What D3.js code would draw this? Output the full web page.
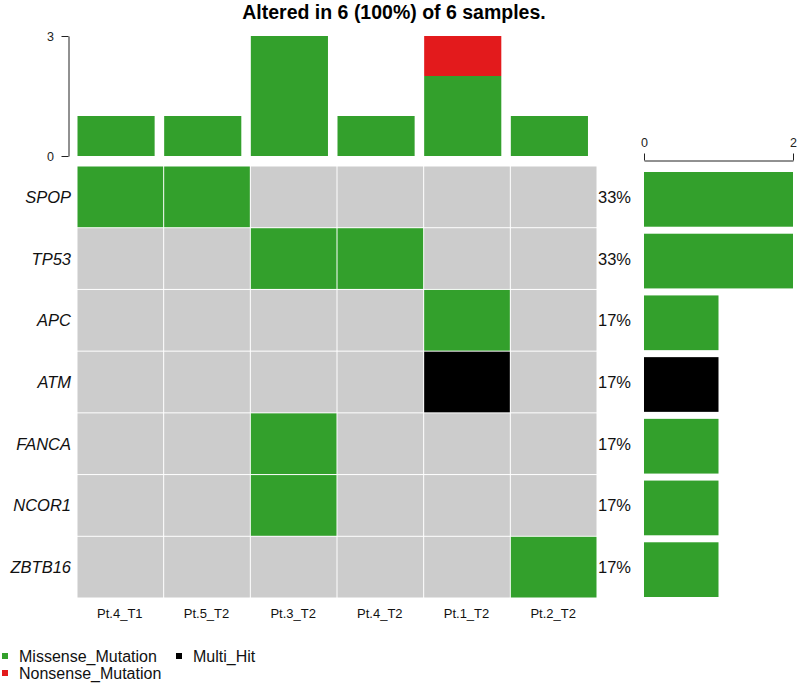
<!DOCTYPE html>
<html><head><meta charset="utf-8">
<script src="https://cdn.jsdelivr.net/npm/d3@7"></script>
<style>body{margin:0;background:#fff}svg{display:block}text{font-family:"Liberation Sans",Arial,sans-serif}</style>
</head><body>
<script>
const samples = ["Pt.4_T1","Pt.5_T2","Pt.3_T2","Pt.4_T2","Pt.1_T2","Pt.2_T2"];
const genes = ["SPOP","TP53","APC","ATM","FANCA","NCOR1","ZBTB16"];
const pct = ["33%","33%","17%","17%","17%","17%","17%"];
// variant class per gene (rows) x sample (cols); "" = none
const cells = [
  ["Missense_Mutation","Missense_Mutation","","","",""],
  ["","","Missense_Mutation","Missense_Mutation","",""],
  ["","","","","Missense_Mutation",""],
  ["","","","","Multi_Hit",""],
  ["","","Missense_Mutation","","",""],
  ["","","Missense_Mutation","","",""],
  ["","","","","","Missense_Mutation"]
];
// top bar: mutations per sample by class
const topMissense  = [1,1,3,1,2,1];
const topNonsense  = [0,0,0,0,1,0];
// right bar: samples per gene with class
const geneCounts = [2,2,1,1,1,1,1];
const geneClass  = ["Missense_Mutation","Missense_Mutation","Missense_Mutation","Multi_Hit","Missense_Mutation","Missense_Mutation","Missense_Mutation"];
const colors = {"Missense_Mutation":"#33A02C","Nonsense_Mutation":"#E31A1C","Multi_Hit":"#000000"};
const bg = "#CCCCCC";

const W=797,H=685;
const svg=d3.select("body").append("svg").attr("width",W).attr("height",H);

const x=d3.scaleBand().domain(samples).range([77,597]);
const y=d3.scaleBand().domain(genes).range([166,598]);

// title
svg.append("text").attr("x",394).attr("y",18.5).attr("text-anchor","middle")
  .attr("font-weight","bold").attr("font-size",19.5).attr("fill","#000").text(`Altered in 6 (100%) of 6 samples.`);

// grid
genes.forEach((g,i)=>{
  samples.forEach((s,j)=>{
    const c=cells[i][j];
    svg.append("rect").attr("x",x(s)+0.5).attr("y",y(g)+0.5)
      .attr("width",x.bandwidth()-1).attr("height",y.bandwidth()-1)
      .attr("fill",c?colors[c]:bg);
  });
});

// gene labels
svg.selectAll(".gl").data(genes).enter().append("text")
  .attr("x",71).attr("y",d=>y(d)+y.bandwidth()/2+6).attr("text-anchor","end")
  .attr("font-style","italic").attr("font-size",16.5).attr("fill","#111").text(d=>d);
// pct labels
svg.selectAll(".pl").data(pct).enter().append("text")
  .attr("x",598).attr("y",(d,i)=>y(genes[i])+y.bandwidth()/2+6)
  .attr("font-size",16.5).attr("fill","#111").text(d=>d);
// sample labels
svg.selectAll(".sl").data(samples).enter().append("text")
  .attr("x",d=>x(d)+x.bandwidth()/2-0.5).attr("y",617.5).attr("text-anchor","middle")
  .attr("font-size",13).attr("fill","#111").text(d=>d);

// top bars
const yt=d3.scaleLinear().domain([0,3]).range([156,36]);
const bw=x.bandwidth()*0.89;
samples.forEach((s,j)=>{
  svg.append("rect").attr("x",x(s)+0.5).attr("width",bw)
    .attr("y",yt(topMissense[j])).attr("height",yt(0)-yt(topMissense[j])).attr("fill",colors.Missense_Mutation);
  if(topNonsense[j]>0){
    svg.append("rect").attr("x",x(s)+0.5).attr("width",bw)
      .attr("y",yt(topMissense[j]+topNonsense[j])).attr("height",yt(0)-yt(topNonsense[j])).attr("fill",colors.Nonsense_Mutation);
  }
});
const ta=svg.append("g").attr("transform","translate(68.5,0)")
  .call(d3.axisLeft(yt).tickValues([0,3]).tickSize(7).tickSizeOuter(0).tickFormat(d3.format("d")));
ta.select(".domain").attr("stroke","#222");
ta.selectAll(".tick line").attr("stroke","#222");
ta.selectAll("text").attr("font-size",12.5).attr("fill","#222").attr("x",-14.5);

// right bars
const xr=d3.scaleLinear().domain([0,2]).range([644,793]);
genes.forEach((g,i)=>{
  svg.append("rect").attr("x",xr(0)).attr("width",xr(geneCounts[i])-xr(0))
    .attr("y",y(g)+6).attr("height",y.bandwidth()-7).attr("fill",colors[geneClass[i]]);
});
const ra=svg.append("g").attr("transform","translate(0,160.5)")
  .call(d3.axisTop(xr).tickValues([0,2]).tickSize(7).tickSizeOuter(0).tickFormat(d3.format("d")));
ra.select(".domain").attr("stroke","#222");
ra.selectAll(".tick line").attr("stroke","#222");
ra.selectAll("text").attr("font-size",12.5).attr("fill","#222").attr("y",-13.5);

// legend
const leg=[{c:"Missense_Mutation",x:2,y:656,tx:19},{c:"Nonsense_Mutation",x:2,y:673,tx:19},{c:"Multi_Hit",x:176,y:656,tx:193}];
leg.forEach(l=>{
  svg.append("rect").attr("x",l.x).attr("y",l.y-3).attr("width",6).attr("height",6).attr("fill",colors[l.c]);
  svg.append("text").attr("x",l.tx).attr("y",l.y+6).attr("font-size",16).attr("fill","#111").text(l.c);
});
</script>
</body></html>
